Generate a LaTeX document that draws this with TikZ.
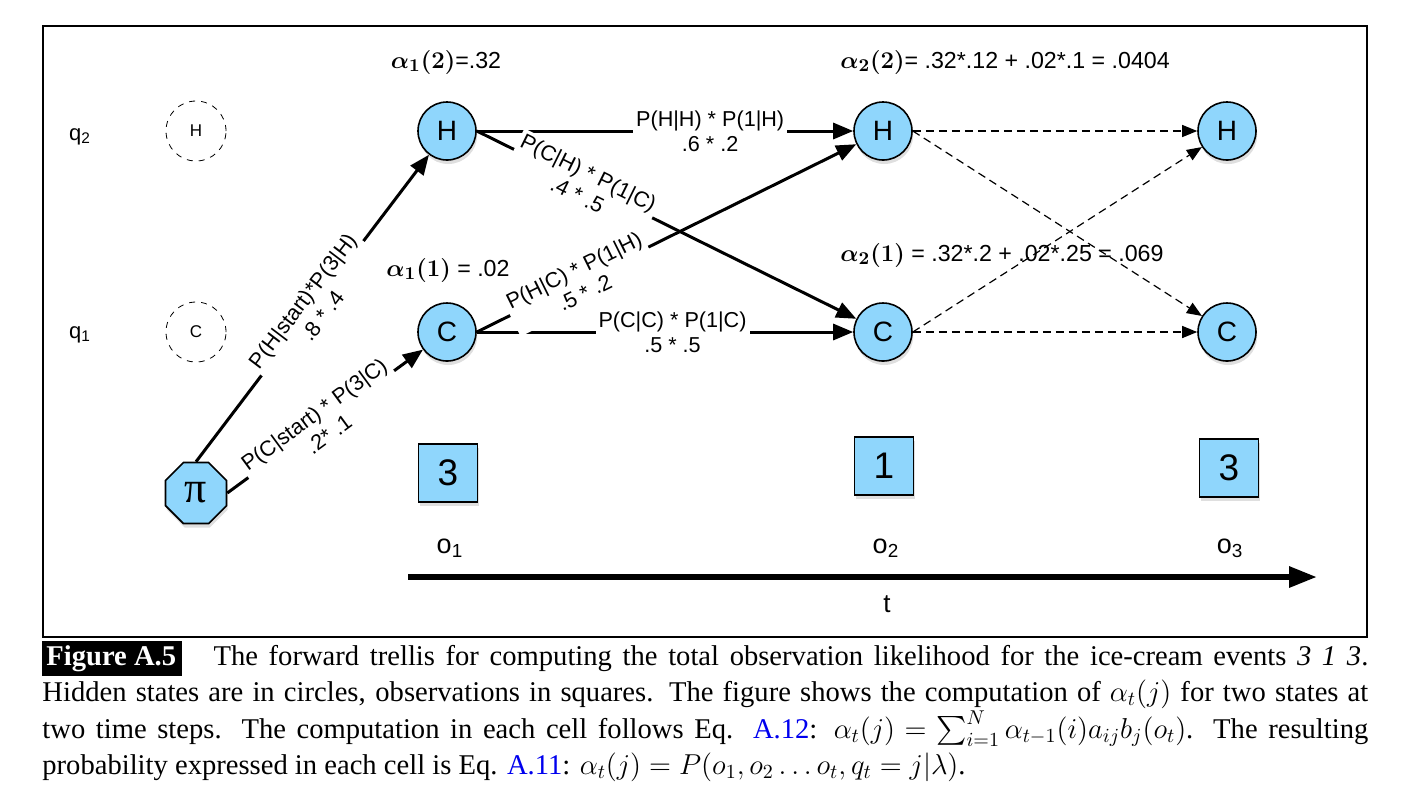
\documentclass[tikz,border=0pt]{standalone}
\usepackage{fontspec}
\setmainfont{Liberation Serif}
\setsansfont{Liberation Sans}
\usepackage{amsmath}
\usetikzlibrary{arrows.meta, shapes.geometric, shadows, positioning}
\definecolor{StateBlue}{HTML}{8FD6FC}
\definecolor{LinkBlue}{HTML}{0000EE}
\newcommand{\fwd}[1]{{\fontsize{12.5}{13}\selectfont$\boldsymbol{#1}$}}
\newcommand{\capmath}{\thickmuskip=5mu plus 1mu\relax\medmuskip=4mu plus 1mu\relax}
\tikzset{
  state/.style={circle, draw=black, thick, fill=StateBlue, minimum size=29pt,
    inner sep=0pt, font=\sffamily\fontsize{14}{14}\selectfont,
    drop shadow={opacity=0.25, shadow xshift=0.6pt, shadow yshift=-2pt}},
  ghost/.style={circle, draw=black, dashed, thin, minimum size=30pt,
    inner sep=0pt, font=\sffamily\fontsize{8.5}{9}\selectfont},
  obsbox/.style={rectangle, draw=black, thick, fill=StateBlue, minimum width=29.5pt,
    minimum height=29pt, inner sep=0pt, font=\sffamily\fontsize{18.5}{19}\selectfont,
    drop shadow={opacity=0.25, shadow xshift=0.6pt, shadow yshift=-2pt}},
  startnode/.style={regular polygon, regular polygon sides=8, draw=black, thick,
    fill=StateBlue, minimum size=33pt, inner sep=0pt,
    font=\fontsize{22}{22}\selectfont,
    drop shadow={opacity=0.25, shadow xshift=0.6pt, shadow yshift=-2pt}},
  plain/.style={font=\sffamily\fontsize{11}{13}\selectfont},
  fwdlbl/.style={font=\sffamily\fontsize{11.6}{13}\selectfont},
  elbl/.style={sloped, fill=white, align=center, inner sep=1.5pt,
    font=\sffamily\fontsize{10.8}{12.5}\selectfont},
  trans/.style={-{Triangle[length=10pt, width=8pt]}, line width=1.5pt},
  future/.style={-{Triangle[length=7.5pt, width=6pt]}, line width=0.6pt,
    dash pattern=on 4pt off 2.5pt},
  timeline/.style={-{Triangle[length=14pt, width=10pt]}, line width=3pt},
  caption/.style={inner sep=0pt, text width=663pt, align=justify,
    font=\fontsize{14.3}{18.2}\selectfont\capmath},
}

\begin{document}
\begin{tikzpicture}[x=0.5pt, y=-0.5pt]
  \useasboundingbox (0,0) rectangle (1413,811);
  \draw[line width=0.65pt] (43,26) rectangle (1367,637);

  % state rows
  \node[plain] (q2) at (80,137) {q\textsubscript{2}};
  \node[plain] (q1) at (80,335) {q\textsubscript{1}};
  \node[ghost] (gh) at (196,131) {H};
  \node[ghost] (gc) at (196,332) {C};
  \node[startnode] (pi) at (196,493) {π};

  \node[state] (h1) at (447,131) {H};
  \node[state] (c1) at (447,332) {C};
  \node[state] (h2) at (883,131) {H};
  \node[state] (c2) at (883,332) {C};
  \node[state] (h3) at (1227,131) {H};
  \node[state] (c3) at (1227,332) {C};

  % forward values
  \node[fwdlbl] (a12) at (446,62) {\fwd{\alpha_1(2)}=.32};
  \node[fwdlbl] (a11) at (448,270) {\fwd{\alpha_1(1)} = .02};
  \node[fwdlbl] (a22) at (1005,62) {\fwd{\alpha_2(2)}= .32*.12 + .02*.1 = .0404};
  \node[fwdlbl] (a21) at (1002,255) {\fwd{\alpha_2(1)} = .32*.2 + .02*.25 = .069};

  % observations
  \node[obsbox] (ob1) at (448,473) {3};
  \node[obsbox] (ob2) at (884,466) {1};
  \node[obsbox] (ob3) at (1229,468) {3};
  \node[plain, font=\sffamily\fontsize{13.5}{14}\selectfont] (o1) at (450,548) {o\textsubscript{1}};
  \node[plain, font=\sffamily\fontsize{13.5}{14}\selectfont] (o2) at (886,548) {o\textsubscript{2}};
  \node[plain, font=\sffamily\fontsize{13.5}{14}\selectfont] (o3) at (1230,548) {o\textsubscript{3}};

  \coordinate (t0) at (408,577);
  \coordinate (t1) at (1317,577);
  \draw[timeline] (t0) -- (t1);
  \node[plain, font=\sffamily\fontsize{13}{14}\selectfont] (tl) at (887,604) {t};

  % transitions
  \draw[trans] (h1) -- node[elbl, pos=0.62] {P(H|H) * P(1|H)\\.6 * .2} (h2);
  \draw[trans] (c1) -- node[elbl, pos=0.52] {P(C|C) * P(1|C)\\.5 * .5} (c2);
  \draw[trans] (h1.east) -- node[elbl, pos=0.28] {P(C|H) * P(1|C)\\.4 * .5} (c2);
  \draw[trans] (c1.east) -- node[elbl, pos=0.27] {P(H|C) * P(1|H)\\.5 * .2} (h2);
  \draw[trans] (pi.north) -- node[elbl, pos=0.5] {P(H|start)*P(3|H)\\.8 * .4} (h1);
  \draw[trans] (pi.east) -- node[elbl, pos=0.48] {P(C|start) * P(3|C)\\.2* .1} (c1);

  \draw[future] (h2.east) -- (h3);
  \draw[future] (h2.east) -- (c3);
  \draw[future] (c2.east) -- (h3);
  \draw[future] (c2.east) -- (c3);

  % caption
  \node[caption, anchor=north west] (cap) at (42,641) {{\setlength{\fboxsep}{2pt}\colorbox{black}{\textcolor{white}{\textbf{Figure A.5}\kern1pt}}}\hspace{1.1em}The forward trellis for computing the total observation likelihood for the ice-cream events \textit{3 1 3}.\linebreak
  Hidden states are in circles, observations in squares. The figure shows the computation of $\alpha_t(j)$ for two states at\linebreak
  two time steps. The computation in each cell follows Eq. \textcolor{LinkBlue}{A.12}: $\alpha_t(j) = \sum_{i=1}^{N} \alpha_{t-1}(i)a_{ij}b_j(o_t)$. The resulting\linebreak
  probability expressed in each cell is Eq. \textcolor{LinkBlue}{A.11}: $\alpha_t(j) = P(o_1,o_2\ldots o_t,q_t=j|\lambda)$.};
\end{tikzpicture}
\end{document}
